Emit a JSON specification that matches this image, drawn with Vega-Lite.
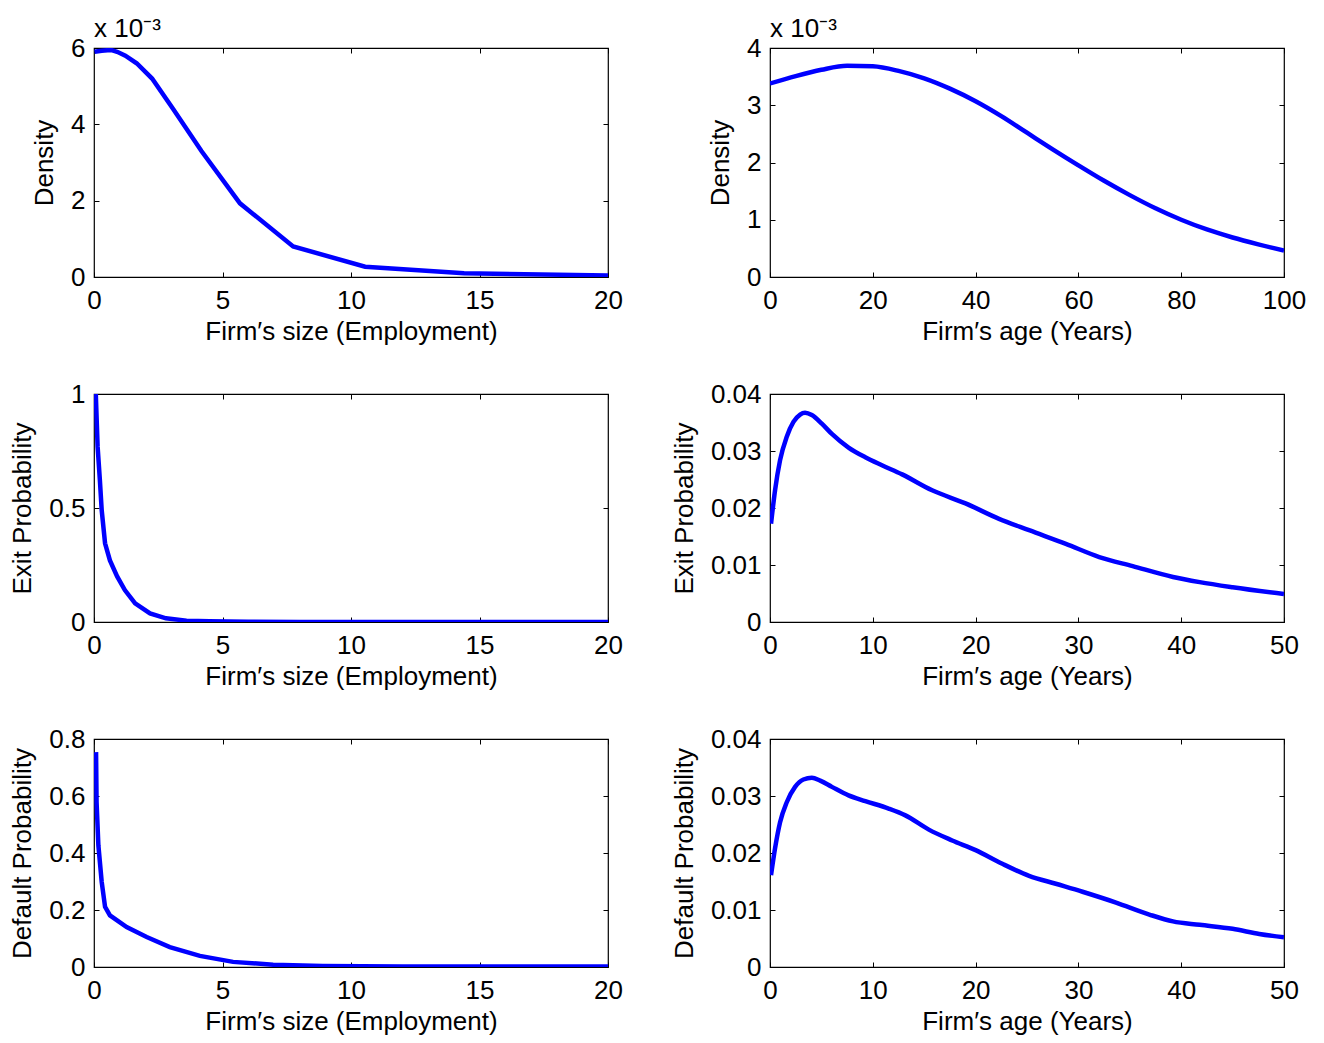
{
  "$schema": "https://vega.github.io/schema/vega-lite/v6.json",
  "background": "white",
  "padding": {"left": 9, "top": 15, "right": 0, "bottom": 0},
  "bounds": "flush",
  "columns": 2,
  "spacing": {"row": 117, "column": 162},
  "datasets": {
    "size_density": [
      {"employment": 0.02, "density": 0.00590},
      {"employment": 0.3, "density": 0.00593},
      {"employment": 0.65, "density": 0.00595},
      {"employment": 0.9, "density": 0.00590},
      {"employment": 1.22, "density": 0.00580},
      {"employment": 1.66, "density": 0.00560},
      {"employment": 2.26, "density": 0.00520},
      {"employment": 3.08, "density": 0.00440},
      {"employment": 4.18, "density": 0.00330},
      {"employment": 5.68, "density": 0.00193},
      {"employment": 7.75, "density": 0.00080},
      {"employment": 10.55, "density": 0.00027},
      {"employment": 14.4, "density": 0.00010},
      {"employment": 20, "density": 0.00004}
    ],
    "size_exit": [
      {"employment": 0.07, "exit": 1.0},
      {"employment": 0.14, "exit": 0.77},
      {"employment": 0.23, "exit": 0.62},
      {"employment": 0.3, "exit": 0.49},
      {"employment": 0.43, "exit": 0.345},
      {"employment": 0.62, "exit": 0.27},
      {"employment": 0.9, "exit": 0.2},
      {"employment": 1.2, "exit": 0.14},
      {"employment": 1.6, "exit": 0.082},
      {"employment": 2.18, "exit": 0.038},
      {"employment": 2.8, "exit": 0.016},
      {"employment": 3.6, "exit": 0.006},
      {"employment": 4.5, "exit": 0.003},
      {"employment": 6, "exit": 0.001},
      {"employment": 8, "exit": 0.0003},
      {"employment": 20, "exit": 0.0}
    ],
    "size_default": [
      {"employment": 0.08, "default": 0.754},
      {"employment": 0.1, "default": 0.579},
      {"employment": 0.17, "default": 0.427},
      {"employment": 0.3, "default": 0.298},
      {"employment": 0.43, "default": 0.211},
      {"employment": 0.62, "default": 0.181},
      {"employment": 1.27, "default": 0.140},
      {"employment": 2.05, "default": 0.105},
      {"employment": 2.95, "default": 0.070},
      {"employment": 4.12, "default": 0.039},
      {"employment": 5.41, "default": 0.018},
      {"employment": 6.97, "default": 0.008},
      {"employment": 8.9, "default": 0.0035},
      {"employment": 12, "default": 0.002},
      {"employment": 20, "default": 0.0015}
    ],
    "age_density": [
      {"age": 0, "density": 0.00338},
      {"age": 5, "density": 0.00351},
      {"age": 10, "density": 0.00362},
      {"age": 15, "density": 0.00369},
      {"age": 20, "density": 0.00368},
      {"age": 25, "density": 0.00360},
      {"age": 30, "density": 0.00347},
      {"age": 35, "density": 0.00329},
      {"age": 40, "density": 0.00307},
      {"age": 45, "density": 0.00281},
      {"age": 50, "density": 0.00252},
      {"age": 55, "density": 0.00223},
      {"age": 60, "density": 0.00195},
      {"age": 65, "density": 0.00168},
      {"age": 70, "density": 0.00143},
      {"age": 75, "density": 0.00120},
      {"age": 80, "density": 0.00100},
      {"age": 85, "density": 0.00083},
      {"age": 90, "density": 0.00069},
      {"age": 95, "density": 0.00057},
      {"age": 100, "density": 0.00046}
    ],
    "age_exit": [
      {"age": 0.1, "exit": 0.01725},
      {"age": 0.49, "exit": 0.0231},
      {"age": 0.98, "exit": 0.0284},
      {"age": 1.63, "exit": 0.0325},
      {"age": 2.28, "exit": 0.0351},
      {"age": 2.93, "exit": 0.0364},
      {"age": 3.41, "exit": 0.0367},
      {"age": 4.07, "exit": 0.0363},
      {"age": 5.04, "exit": 0.0348},
      {"age": 6.02, "exit": 0.0330},
      {"age": 7.64, "exit": 0.0306},
      {"age": 9.27, "exit": 0.0289},
      {"age": 10.89, "exit": 0.0275},
      {"age": 12.85, "exit": 0.0259},
      {"age": 15.77, "exit": 0.0231},
      {"age": 19.02, "exit": 0.0208},
      {"age": 22.28, "exit": 0.0181},
      {"age": 25.2, "exit": 0.0161},
      {"age": 28.78, "exit": 0.0137},
      {"age": 32.03, "exit": 0.0114},
      {"age": 35.28, "exit": 0.0098},
      {"age": 39.2, "exit": 0.0079},
      {"age": 41.8, "exit": 0.0070},
      {"age": 45.0, "exit": 0.0061},
      {"age": 50.0, "exit": 0.0049}
    ],
    "age_default": [
      {"age": 0.1, "default": 0.0161},
      {"age": 0.49, "default": 0.0208},
      {"age": 0.98, "default": 0.0254},
      {"age": 1.63, "default": 0.0289},
      {"age": 2.44, "default": 0.0316},
      {"age": 3.25, "default": 0.0329},
      {"age": 4.07, "default": 0.0332},
      {"age": 4.88, "default": 0.0327},
      {"age": 6.02, "default": 0.0316},
      {"age": 7.64, "default": 0.0301},
      {"age": 9.27, "default": 0.0291},
      {"age": 11.54, "default": 0.0278},
      {"age": 13.17, "default": 0.0266},
      {"age": 15.45, "default": 0.0241},
      {"age": 17.72, "default": 0.0222},
      {"age": 20.0, "default": 0.0205},
      {"age": 22.6, "default": 0.0181},
      {"age": 25.2, "default": 0.0160},
      {"age": 27.8, "default": 0.0146},
      {"age": 30.4, "default": 0.0132},
      {"age": 33.66, "default": 0.0113},
      {"age": 36.9, "default": 0.0092},
      {"age": 39.2, "default": 0.0080},
      {"age": 41.8, "default": 0.0074},
      {"age": 45.0, "default": 0.0067},
      {"age": 47.6, "default": 0.0058},
      {"age": 50.0, "default": 0.0052}
    ]
  },
  "concat": [
    {
      "width": 514, "height": 229,
      "data": {"name": "size_density"},
      "title": {"text": "x 10⁻³"},
      "layer": [
        {
          "mark": {"type": "line", "color": "#0000ff", "strokeWidth": 4.5, "clip": true},
          "encoding": {
            "x": {"field": "employment", "type": "quantitative", "scale": {"domain": [0, 20], "nice": false, "zero": false}, "axis": {"orient": "bottom", "values": [0, 5, 10, 15, 20], "title": "Firm′s size (Employment)"}},
            "y": {"field": "density", "type": "quantitative", "scale": {"domain": [0, 0.006], "nice": false}, "axis": {"orient": "left", "values": [0, 0.002, 0.004, 0.006], "labelExpr": "format(datum.value*1000, 'd')", "title": "Density"}}
          }
        },
        {
          "mark": {"type": "line", "strokeOpacity": 0},
          "encoding": {
            "x": {"field": "employment", "type": "quantitative", "axis": {"orient": "top", "values": [0, 5, 10, 15, 20], "labels": false, "title": null}},
            "y": {"field": "density", "type": "quantitative", "axis": {"orient": "right", "values": [0, 0.002, 0.004, 0.006], "labels": false, "title": null}}
          }
        }
      ],
      "resolve": {"axis": {"x": "independent", "y": "independent"}}
    },
    {
      "width": 514, "height": 229,
      "data": {"name": "age_density"},
      "title": {"text": "x 10⁻³"},
      "layer": [
        {
          "mark": {"type": "line", "color": "#0000ff", "strokeWidth": 4.5, "clip": true, "interpolate": "monotone"},
          "encoding": {
            "x": {"field": "age", "type": "quantitative", "scale": {"domain": [0, 100], "nice": false}, "axis": {"orient": "bottom", "values": [0, 20, 40, 60, 80, 100], "title": "Firm′s age (Years)"}},
            "y": {"field": "density", "type": "quantitative", "scale": {"domain": [0, 0.004], "nice": false}, "axis": {"orient": "left", "values": [0, 0.001, 0.002, 0.003, 0.004], "labelExpr": "format(datum.value*1000, 'd')", "title": "Density"}}
          }
        },
        {
          "mark": {"type": "line", "strokeOpacity": 0},
          "encoding": {
            "x": {"field": "age", "type": "quantitative", "axis": {"orient": "top", "values": [0, 20, 40, 60, 80, 100], "labels": false, "title": null}},
            "y": {"field": "density", "type": "quantitative", "axis": {"orient": "right", "values": [0, 0.001, 0.002, 0.003, 0.004], "labels": false, "title": null}}
          }
        }
      ],
      "resolve": {"axis": {"x": "independent", "y": "independent"}}
    },
    {
      "width": 514, "height": 228,
      "data": {"name": "size_exit"},
      "layer": [
        {
          "mark": {"type": "line", "color": "#0000ff", "strokeWidth": 4.5, "clip": true},
          "encoding": {
            "x": {"field": "employment", "type": "quantitative", "scale": {"domain": [0, 20], "nice": false}, "axis": {"orient": "bottom", "values": [0, 5, 10, 15, 20], "title": "Firm′s size (Employment)"}},
            "y": {"field": "exit", "type": "quantitative", "scale": {"domain": [0, 1], "nice": false}, "axis": {"orient": "left", "values": [0, 0.5, 1], "format": "~g", "title": "Exit Probability"}}
          }
        },
        {
          "mark": {"type": "line", "strokeOpacity": 0},
          "encoding": {
            "x": {"field": "employment", "type": "quantitative", "axis": {"orient": "top", "values": [0, 5, 10, 15, 20], "labels": false, "title": null}},
            "y": {"field": "exit", "type": "quantitative", "axis": {"orient": "right", "values": [0, 0.5, 1], "labels": false, "title": null}}
          }
        }
      ],
      "resolve": {"axis": {"x": "independent", "y": "independent"}}
    },
    {
      "width": 514, "height": 228,
      "data": {"name": "age_exit"},
      "layer": [
        {
          "mark": {"type": "line", "color": "#0000ff", "strokeWidth": 4.5, "clip": true, "interpolate": "monotone"},
          "encoding": {
            "x": {"field": "age", "type": "quantitative", "scale": {"domain": [0, 50], "nice": false}, "axis": {"orient": "bottom", "values": [0, 10, 20, 30, 40, 50], "title": "Firm′s age (Years)"}},
            "y": {"field": "exit", "type": "quantitative", "scale": {"domain": [0, 0.04], "nice": false}, "axis": {"orient": "left", "values": [0, 0.01, 0.02, 0.03, 0.04], "format": "~g", "title": "Exit Probability"}}
          }
        },
        {
          "mark": {"type": "line", "strokeOpacity": 0},
          "encoding": {
            "x": {"field": "age", "type": "quantitative", "axis": {"orient": "top", "values": [0, 10, 20, 30, 40, 50], "labels": false, "title": null}},
            "y": {"field": "exit", "type": "quantitative", "axis": {"orient": "right", "values": [0, 0.01, 0.02, 0.03, 0.04], "labels": false, "title": null}}
          }
        }
      ],
      "resolve": {"axis": {"x": "independent", "y": "independent"}}
    },
    {
      "width": 514, "height": 228,
      "data": {"name": "size_default"},
      "layer": [
        {
          "mark": {"type": "line", "color": "#0000ff", "strokeWidth": 4.5, "clip": true},
          "encoding": {
            "x": {"field": "employment", "type": "quantitative", "scale": {"domain": [0, 20], "nice": false}, "axis": {"orient": "bottom", "values": [0, 5, 10, 15, 20], "title": "Firm′s size (Employment)"}},
            "y": {"field": "default", "type": "quantitative", "scale": {"domain": [0, 0.8], "nice": false}, "axis": {"orient": "left", "values": [0, 0.2, 0.4, 0.6, 0.8], "format": "~g", "title": "Default Probability"}}
          }
        },
        {
          "mark": {"type": "line", "strokeOpacity": 0},
          "encoding": {
            "x": {"field": "employment", "type": "quantitative", "axis": {"orient": "top", "values": [0, 5, 10, 15, 20], "labels": false, "title": null}},
            "y": {"field": "default", "type": "quantitative", "axis": {"orient": "right", "values": [0, 0.2, 0.4, 0.6, 0.8], "labels": false, "title": null}}
          }
        }
      ],
      "resolve": {"axis": {"x": "independent", "y": "independent"}}
    },
    {
      "width": 514, "height": 228,
      "data": {"name": "age_default"},
      "layer": [
        {
          "mark": {"type": "line", "color": "#0000ff", "strokeWidth": 4.5, "clip": true, "interpolate": "monotone"},
          "encoding": {
            "x": {"field": "age", "type": "quantitative", "scale": {"domain": [0, 50], "nice": false}, "axis": {"orient": "bottom", "values": [0, 10, 20, 30, 40, 50], "title": "Firm′s age (Years)"}},
            "y": {"field": "default", "type": "quantitative", "scale": {"domain": [0, 0.04], "nice": false}, "axis": {"orient": "left", "values": [0, 0.01, 0.02, 0.03, 0.04], "format": "~g", "title": "Default Probability"}}
          }
        },
        {
          "mark": {"type": "line", "strokeOpacity": 0},
          "encoding": {
            "x": {"field": "age", "type": "quantitative", "axis": {"orient": "top", "values": [0, 10, 20, 30, 40, 50], "labels": false, "title": null}},
            "y": {"field": "default", "type": "quantitative", "axis": {"orient": "right", "values": [0, 0.01, 0.02, 0.03, 0.04], "labels": false, "title": null}}
          }
        }
      ],
      "resolve": {"axis": {"x": "independent", "y": "independent"}}
    }
  ],
  "config": {
    "view": {"stroke": "black", "strokeWidth": 1.2},
    "font": "Liberation Sans",
    "title": {"anchor": "start", "frame": "group", "fontSize": 26, "fontWeight": "normal", "font": "Liberation Sans", "color": "black", "offset": -7},
    "axis": {
      "domain": false,
      "grid": false,
      "ticks": true,
      "tickSize": -5,
      "tickColor": "black",
      "tickWidth": 1,
      "labelFont": "Liberation Sans",
      "labelFontSize": 26,
      "labelColor": "black",
      "labelFlush": false,
      "labelOverlap": false,
      "titleFont": "Liberation Sans",
      "titleFontSize": 26,
      "titleFontWeight": "normal",
      "titleColor": "black"
    },
    "axisBottom": {"labelPadding": 15, "titlePadding": 5},
    "axisLeft": {"labelPadding": 14, "titlePadding": 13}
  }
}
